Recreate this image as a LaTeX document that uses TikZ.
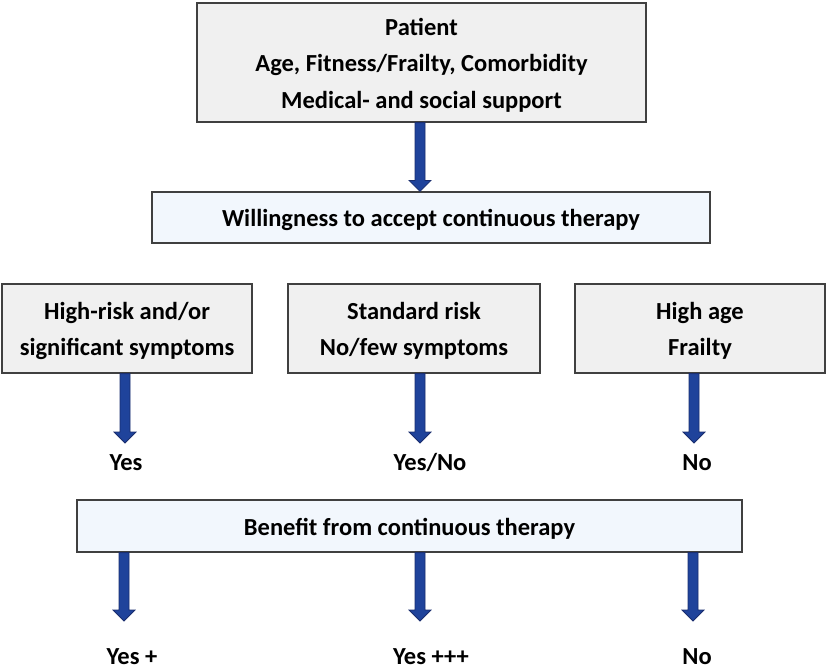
\documentclass[tikz,border=0pt]{standalone}
\usepackage{fontspec}
\setmainfont{Carlito}
\usetikzlibrary{calc}
\definecolor{boxgrey}{RGB}{240,240,240}
\definecolor{boxblue}{RGB}{242,247,253}
\definecolor{edgecol}{RGB}{64,64,64}
\definecolor{arrowfill}{RGB}{31,67,155}
\definecolor{arrowedge}{RGB}{25,45,110}
\tikzset{
  greybox/.style={draw=edgecol, line width=1.2pt, fill=boxgrey, inner sep=0pt},
  bluebox/.style={greybox, fill=boxblue},
  txt/.style={inner sep=0pt, align=center, yshift=-2.5pt,
    font=\bfseries\fontsize{24.5}{36.5}\selectfont},
  lbl/.style={inner sep=0pt, anchor=base, font=\bfseries\fontsize{24.5}{28}\selectfont},
  barrow/.style={fill=arrowfill, draw=arrowedge, line width=0.8pt, line join=miter},
}
\newcommand\blockarrow[2]{%
  \path #1 coordinate (ba-s) #2 coordinate (ba-t);
  \filldraw[barrow] ($(ba-s)+(-5,0)$) -- ($(ba-t)+(-5,-11)$) -- ($(ba-t)+(-11,-11)$) -- (ba-t)
    -- ($(ba-t)+(11,-11)$) -- ($(ba-t)+(5,-11)$) -- ($(ba-s)+(5,0)$) -- cycle;}
\begin{document}
\begin{tikzpicture}[x=1pt,y=-1pt]
\useasboundingbox (0,0) rectangle (826,669);
% columns
\coordinate (c1) at (125,0);
\coordinate (c2) at (420,0);
\coordinate (c3) at (694,0);
% boxes
\node[greybox, minimum width=449pt, minimum height=119pt] (patient) at (421.5,62.5) {};
\node[txt] (patient-t) at (patient.center)
  {Patient\\Age, Fitness/Frailty, Comorbidity\\Medical- and social support};
\node[bluebox, minimum width=558pt, minimum height=51pt] (will) at (431,217.5) {};
\node[txt] (will-t) at (will.center) {Willingness to accept continuous therapy};
\node[greybox, minimum width=250pt, minimum height=89pt] (hr) at (127,328.5) {};
\node[txt] (hr-t) at (hr.center) {High-risk and/or\\significant symptoms};
\node[greybox, minimum width=252pt, minimum height=89pt] (sr) at (414,328.5) {};
\node[txt] (sr-t) at (sr.center) {Standard risk\\No/few symptoms};
\node[greybox, minimum width=250pt, minimum height=89pt] (ha) at (700,328.5) {};
\node[txt] (ha-t) at (ha.center) {High age\\Frailty};
\node[bluebox, minimum width=665pt, minimum height=52pt] (ben) at (409.5,526) {};
\node[txt] (ben-t) at (ben.center) {Benefit from continuous therapy};
% labels
\node[lbl] (l1) at (126,470) {Yes};
\node[lbl] (l2) at (430,470) {Yes/No};
\node[lbl] (l3) at (697,470) {No};
\node[lbl] (m1) at (132,664) {Yes +};
\node[lbl] (m2) at (431,664) {Yes +++};
\node[lbl] (m3) at (697,664) {No};
% tips
\coordinate (t1) at (125,443);
\coordinate (t2) at (420,443);
\coordinate (t3) at (694,443);
\coordinate (u1) at (124,621);
\coordinate (u2) at (420,621);
\coordinate (u3) at (693,621);
% arrows
\blockarrow{(patient.south -| c2)}{(will.north -| c2)}
\blockarrow{(hr.south -| t1)}{(t1)}
\blockarrow{(sr.south -| t2)}{(t2)}
\blockarrow{(ha.south -| t3)}{(t3)}
\blockarrow{(ben.south -| u1)}{(u1)}
\blockarrow{(ben.south -| u2)}{(u2)}
\blockarrow{(ben.south -| u3)}{(u3)}
\end{tikzpicture}
\end{document}
